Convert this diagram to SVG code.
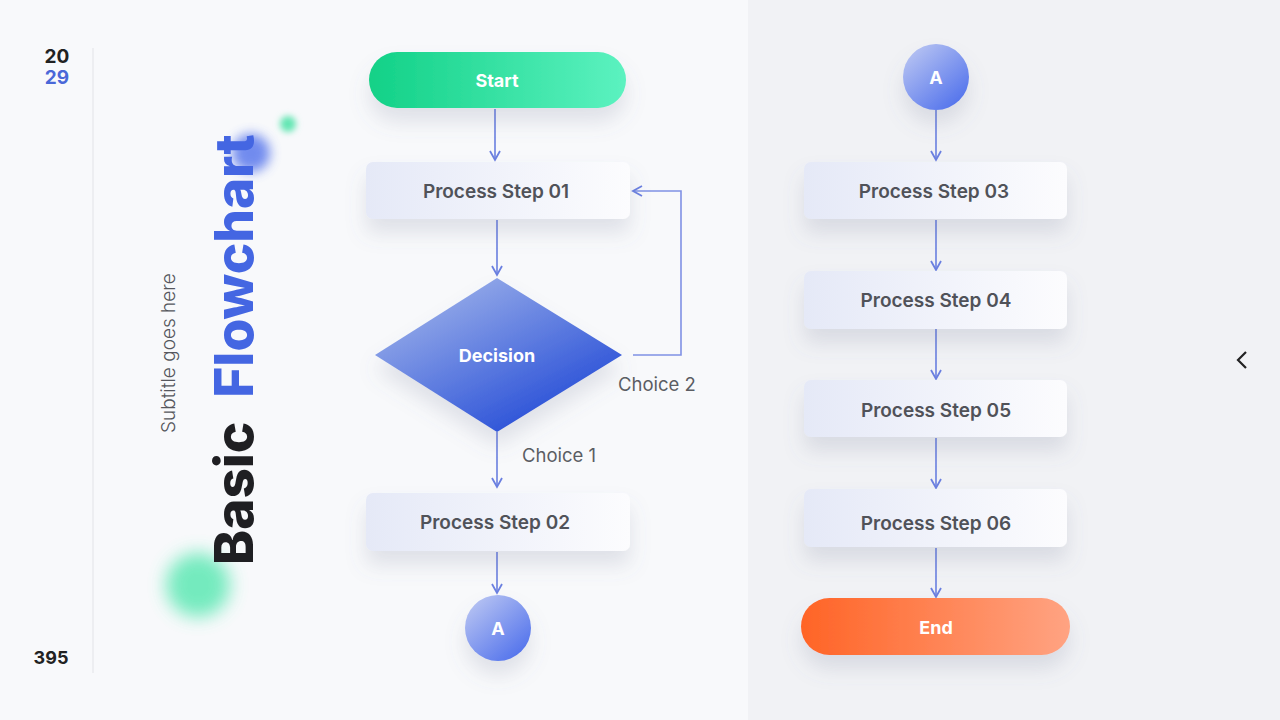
<svg xmlns="http://www.w3.org/2000/svg" width="1280" height="720" viewBox="0 0 1280 720">
<defs>
<linearGradient id="gStart" x1="0" y1="0" x2="1" y2="0"><stop offset="0" stop-color="#12d187"/><stop offset="1" stop-color="#5cf2c0"/></linearGradient>
<linearGradient id="gEnd" x1="0" y1="0" x2="1" y2="0"><stop offset="0" stop-color="#ff6426"/><stop offset="1" stop-color="#ffa382"/></linearGradient>
<linearGradient id="gBox" x1="0" y1="0" x2="1" y2="0"><stop offset="0" stop-color="#e5e9f7"/><stop offset="1" stop-color="#fcfcfe"/></linearGradient>
<linearGradient id="gDia" x1="0.2" y1="0.1" x2="0.85" y2="0.9"><stop offset="0" stop-color="#97ace9"/><stop offset="1" stop-color="#2149d6"/></linearGradient>
<linearGradient id="gCirc" x1="0.15" y1="0.1" x2="0.85" y2="0.9"><stop offset="0" stop-color="#b3c0f2"/><stop offset="1" stop-color="#5474ec"/></linearGradient>
<filter id="sh" x="-30%" y="-30%" width="160%" height="200%"><feDropShadow dx="0" dy="14" stdDeviation="10" flood-color="#6b7390" flood-opacity="0.18"/></filter>
<filter id="blurL" x="-100%" y="-100%" width="300%" height="300%"><feGaussianBlur stdDeviation="9"/></filter>
<filter id="blurM" x="-100%" y="-100%" width="300%" height="300%"><feGaussianBlur stdDeviation="6"/></filter>
<filter id="blurS" x="-100%" y="-100%" width="300%" height="300%"><feGaussianBlur stdDeviation="3"/></filter>
<marker id="arr" viewBox="0 0 12 12" refX="10" refY="6" markerWidth="12" markerHeight="12" markerUnits="userSpaceOnUse" orient="auto"><path d="M1,1 L10,6 L1,11" fill="none" stroke="#6a7fe0" stroke-width="1.8"/></marker>
<style>
.lbl{font-family:Inter,"Liberation Sans",sans-serif;font-weight:600;font-size:19px;fill:#505259;text-anchor:middle;dominant-baseline:central}
.wl{font-family:Inter,"Liberation Sans",sans-serif;font-weight:700;font-size:18px;fill:#ffffff;text-anchor:middle;dominant-baseline:central}
.ch{font-family:Inter,"Liberation Sans",sans-serif;font-weight:400;font-size:18.5px;fill:#5b5d63}
.conn{stroke:#6a7fe0;stroke-width:1.6;fill:none}
.box{fill:url(#gBox);filter:url(#sh)}
</style>
</defs>
<rect x="0" y="0" width="1280" height="720" fill="#f8f9fb"/>
<rect x="748" y="0" width="532" height="720" fill="#f1f2f5"/>
<line x1="93" y1="48" x2="93" y2="673" stroke="#e2e3e7" stroke-width="1"/>
<g id="page">
<text x="57" y="63" font-family="Inter,'Liberation Sans',sans-serif" font-weight="700" font-size="19" fill="#222" text-anchor="middle">20</text>
<text x="57" y="84" font-family="Inter,'Liberation Sans',sans-serif" font-weight="700" font-size="19" fill="#4a68d8" text-anchor="middle">29</text>
<text x="51" y="664" font-family="Inter,'Liberation Sans',sans-serif" font-weight="700" font-size="18" fill="#222" text-anchor="middle">395</text>
<path d="M1246,352 L1238,360 L1246,368" fill="none" stroke="#222" stroke-width="2.2"/>
</g>
<g id="decor">
<circle cx="251" cy="153" r="19" fill="#5a78ec" filter="url(#blurM)" opacity="0.85"/>
<circle cx="288" cy="124" r="8" fill="#63e6b3" filter="url(#blurS)"/>
<circle cx="198" cy="585" r="32" fill="#5de8b4" filter="url(#blurL)" opacity="0.85"/>
</g>
<g id="title">
<text transform="translate(253,565) rotate(-90)" font-family="Inter,'Liberation Sans',sans-serif" font-weight="800" font-size="53"><tspan fill="#1f1f22">Basic</tspan><tspan fill="#4466e2" dx="24">Flowchart</tspan></text>
<text transform="translate(175,433) rotate(-90)" font-family="Inter,'Liberation Sans',sans-serif" font-weight="300" font-size="19" fill="#55575d">Subtitle goes here</text>
</g>
<g id="connectors">
<line class="conn" x1="495" y1="109" x2="495" y2="160" marker-end="url(#arr)"/>
<line class="conn" x1="497" y1="220" x2="497" y2="275" marker-end="url(#arr)"/>
<polyline class="conn" points="633,355 681,355 681,191 633,191" marker-end="url(#arr)" stroke-opacity="0.85"/>
<line class="conn" x1="497" y1="432" x2="497" y2="487" marker-end="url(#arr)"/>
<line class="conn" x1="497" y1="552" x2="497" y2="593" marker-end="url(#arr)"/>
<line class="conn" x1="936" y1="110" x2="936" y2="160" marker-end="url(#arr)"/>
<line class="conn" x1="936" y1="220" x2="936" y2="270" marker-end="url(#arr)"/>
<line class="conn" x1="936" y1="329" x2="936" y2="379" marker-end="url(#arr)"/>
<line class="conn" x1="936" y1="438" x2="936" y2="488" marker-end="url(#arr)"/>
<line class="conn" x1="936" y1="548" x2="936" y2="597" marker-end="url(#arr)"/>
<text class="ch" x="618" y="391">Choice 2</text>
<text class="ch" x="522" y="462">Choice 1</text>
</g>
<g id="start">
<rect x="369" y="52" width="257" height="56" rx="28" fill="url(#gStart)" filter="url(#sh)"/>
<text class="wl" x="497" y="80">Start</text>
</g>
<g id="step01">
<rect class="box" x="366" y="162" width="264" height="57" rx="7"/>
<text class="lbl" x="496" y="191">Process Step 01</text>
</g>
<g id="decision">
<polygon points="497,278 622,355 497,432 375,355" fill="url(#gDia)" filter="url(#sh)"/>
<text class="wl" x="497" y="355">Decision</text>
</g>
<g id="step02">
<rect class="box" x="366" y="493" width="264" height="58" rx="7"/>
<text class="lbl" x="495" y="522">Process Step 02</text>
</g>
<g id="connA1">
<circle cx="498" cy="628" r="33" fill="url(#gCirc)" filter="url(#sh)"/>
<text class="wl" x="498" y="628">A</text>
</g>
<g id="connA2">
<circle cx="936" cy="77" r="33" fill="url(#gCirc)" filter="url(#sh)"/>
<text class="wl" x="936" y="77">A</text>
</g>
<g id="step03">
<rect class="box" x="804" y="162" width="263" height="57" rx="7"/>
<text class="lbl" x="934" y="191">Process Step 03</text>
</g>
<g id="step04">
<rect class="box" x="804" y="271" width="263" height="58" rx="7"/>
<text class="lbl" x="936" y="300">Process Step 04</text>
</g>
<g id="step05">
<rect class="box" x="804" y="380" width="263" height="57" rx="7"/>
<text class="lbl" x="936" y="410">Process Step 05</text>
</g>
<g id="step06">
<rect class="box" x="804" y="489" width="263" height="58" rx="7"/>
<text class="lbl" x="936" y="523">Process Step 06</text>
</g>
<g id="end">
<rect x="801" y="598" width="269" height="57" rx="28.5" fill="url(#gEnd)" filter="url(#sh)"/>
<text class="wl" x="936" y="627">End</text>
</g>
</svg>
